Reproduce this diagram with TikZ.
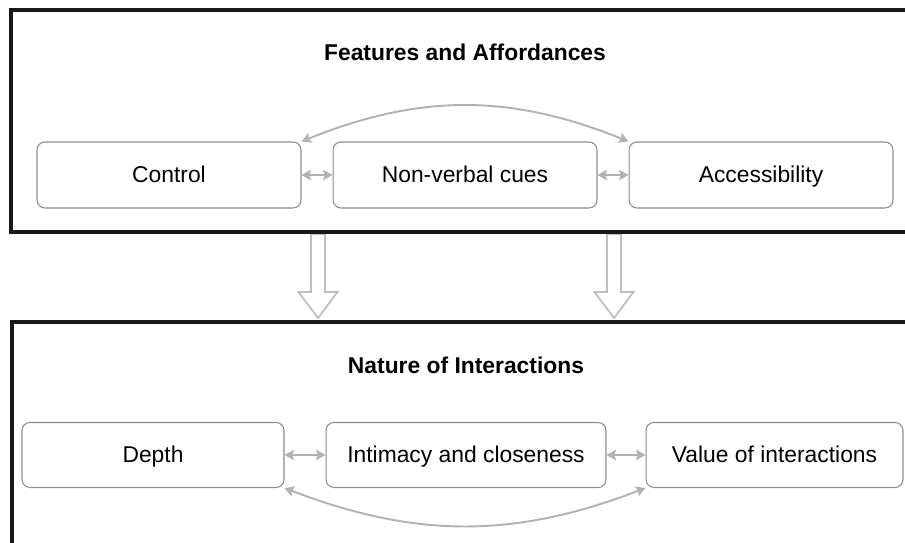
\documentclass[tikz,border=0pt]{standalone}
\usepackage{fontspec}
\setmainfont{Liberation Sans}
\usepackage{tikz}
\usetikzlibrary{arrows,arrows.meta,positioning,shapes}

\definecolor{boxgray}{RGB}{140,140,140}
\definecolor{linkgray}{RGB}{178,178,178}
\definecolor{blockgray}{RGB}{190,190,190}

\tikzset{
	box/.style={draw=boxgray, line width=0.6pt, rounded corners=4.5pt, minimum height=1.32cm, text height=11pt, text depth=2pt, font=\fontsize{13}{15}\selectfont},
	title/.style={font=\fontsize{13}{15}\selectfont\bfseries},
	link/.style={draw=linkgray, line width=1.1pt, <->, >={Stealth[length=5.5pt, width=6pt, inset=1.2pt]}},
	frame/.style={draw=black!90, line width=2pt}
}

\begin{document}
\begin{tikzpicture}[x=0.02cm, y=-0.02cm]
		\useasboundingbox (0,0) rectangle (905,543);
		\clip (0,0) rectangle (905,543);

		% block arrows between the two frames
		\foreach \x in {318,614} {
			\draw[blockgray, line width=1pt, fill=white] (\x-7,234) -- (\x+7,234) -- (\x+7,292) -- (\x+19.5,292)
				-- (\x,318) -- (\x-19.5,292) -- (\x-7,292) -- cycle;
		}

		% frames
		\draw[frame] (11,10) rectangle (930,232);
		\draw[frame] (12,322) rectangle (930,570);

		% top frame
		\node (feat) at (465,52) [title] {Features and Affordances};
		\node (ctrl) at (169,175) [box, minimum width=5.28cm] {Control};
		\node (nvc) at (465,175) [box, minimum width=5.28cm] {Non-verbal cues};
		\node (acc) at (761,175) [box, minimum width=5.28cm] {Accessibility};

		\draw[link] (ctrl) -- (nvc);
		\draw[link] (nvc) -- (acc);
		\draw[link] (ctrl.north east) to[bend left=22] (acc.north west);

		% bottom frame
		\node (nat) at (466,365) [title] {Nature of Interactions};
		\node (depth) at (153,455) [box, minimum width=5.24cm, minimum height=1.3cm] {Depth};
		\node (intim) at (466,455) [box, minimum width=5.6cm, minimum height=1.3cm] {Intimacy and closeness};
		\node (value) at (774.5,455) [box, minimum width=5.14cm, minimum height=1.3cm] {Value of interactions};

		\draw[link] (depth) -- (intim);
		\draw[link] (intim) -- (value);
		\draw[link] (depth.south east) to[bend right=21] (value.south west);

	\end{tikzpicture}
\end{document}
